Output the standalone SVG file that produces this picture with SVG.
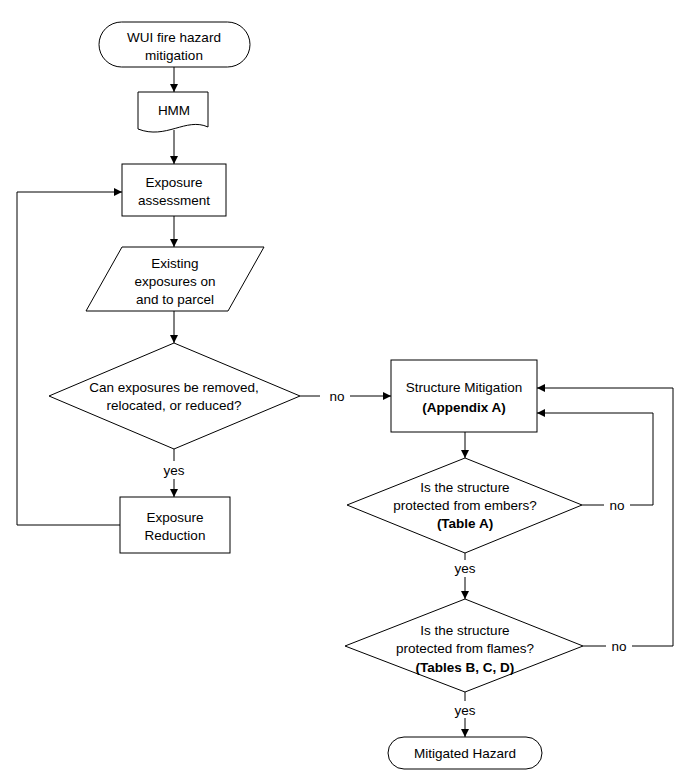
<svg xmlns="http://www.w3.org/2000/svg" width="692" height="782" viewBox="0 0 692 782">
<style>
.s{fill:#fff;stroke:#000;stroke-width:1}
.t{font-family:"Liberation Sans",Arial,sans-serif;font-size:13.5px;fill:#000;text-anchor:middle}
.b{font-weight:bold}
.c{fill:none;stroke:#000;stroke-width:1}
</style>
<defs>
<marker id="a" viewBox="0 0 10 10" refX="10" refY="5" markerWidth="8" markerHeight="8" markerUnits="userSpaceOnUse" orient="auto"><path d="M0,0 L10,5 L0,10 Z" fill="#000"/></marker>
</defs>
<rect width="692" height="782" fill="#fff"/>
<g id="connectors">
<path class="c" d="M174,67 V92" marker-end="url(#a)"/>
<path class="c" d="M174,130 V164" marker-end="url(#a)"/>
<path class="c" d="M174,216 V247" marker-end="url(#a)"/>
<path class="c" d="M174,311 V343" marker-end="url(#a)"/>
<path class="c" d="M174,449 V461"/>
<path class="c" d="M174,479 V497" marker-end="url(#a)"/>
<path class="c" d="M120,525 H17 V192 H122" marker-end="url(#a)"/>
<path class="c" d="M300,396 H320"/>
<path class="c" d="M350,396 H391" marker-end="url(#a)"/>
<path class="c" d="M465,432 V458" marker-end="url(#a)"/>
<path class="c" d="M582,505 H604"/>
<path class="c" d="M630,505 H653 V413 H537" marker-end="url(#a)"/>
<path class="c" d="M465,553 V560"/>
<path class="c" d="M465,577 V599" marker-end="url(#a)"/>
<path class="c" d="M583,646 H606"/>
<path class="c" d="M632,646 H673 V388 H537" marker-end="url(#a)"/>
<path class="c" d="M465,692 V701"/>
<path class="c" d="M465,718 V737" marker-end="url(#a)"/>
<text class="t" x="337" y="401">no</text>
<text class="t" x="174" y="475">yes</text>
<text class="t" x="617" y="510">no</text>
<text class="t" x="465" y="573">yes</text>
<text class="t" x="619" y="651">no</text>
<text class="t" x="465" y="715">yes</text>
</g>
<g id="start">
<rect class="s" x="99" y="22" width="151" height="45" rx="22.5"/>
<text class="t" x="174" y="42">WUI fire hazard</text>
<text class="t" x="174" y="60">mitigation</text>
</g>
<g id="hmm">
<path class="s" d="M138,92 H208 V127 C186,117 166,140 138,129 Z"/>
<text class="t" x="174" y="115">HMM</text>
</g>
<g id="exposure-assessment">
<rect class="s" x="122" y="164" width="104" height="52"/>
<text class="t" x="174" y="187">Exposure</text>
<text class="t" x="174" y="205">assessment</text>
</g>
<g id="existing-exposures">
<path class="s" d="M122,247 H264 L228,311 H86 Z"/>
<text class="t" x="175" y="268">Existing</text>
<text class="t" x="175" y="286">exposures on</text>
<text class="t" x="175" y="304">and to parcel</text>
</g>
<g id="decision-remove">
<path class="s" d="M174,343 L300,396 L174,449 L49,396 Z"/>
<text class="t" x="174" y="392">Can exposures be removed,</text>
<text class="t" x="174" y="410">relocated, or reduced?</text>
</g>
<g id="exposure-reduction">
<rect class="s" x="120" y="497" width="110" height="56"/>
<text class="t" x="175" y="522">Exposure</text>
<text class="t" x="175" y="540">Reduction</text>
</g>
<g id="structure-mitigation">
<rect class="s" x="391" y="360" width="146" height="72"/>
<text class="t" x="464" y="392">Structure Mitigation</text>
<text class="t b" x="464" y="412">(Appendix A)</text>
</g>
<g id="decision-embers">
<path class="s" d="M465,458 L582,505 L465,553 L347,505 Z"/>
<text class="t" x="465" y="492">Is the structure</text>
<text class="t" x="465" y="510">protected from embers?</text>
<text class="t b" x="465" y="528">(Table A)</text>
</g>
<g id="decision-flames">
<path class="s" d="M465,599 L583,646 L465,692 L345,646 Z"/>
<text class="t" x="465" y="635">Is the structure</text>
<text class="t" x="465" y="653">protected from flames?</text>
<text class="t b" x="465" y="672">(Tables B, C, D)</text>
</g>
<g id="mitigated-hazard">
<rect class="s" x="388" y="737" width="154" height="32" rx="16"/>
<text class="t" x="465" y="758">Mitigated Hazard</text>
</g>
</svg>
